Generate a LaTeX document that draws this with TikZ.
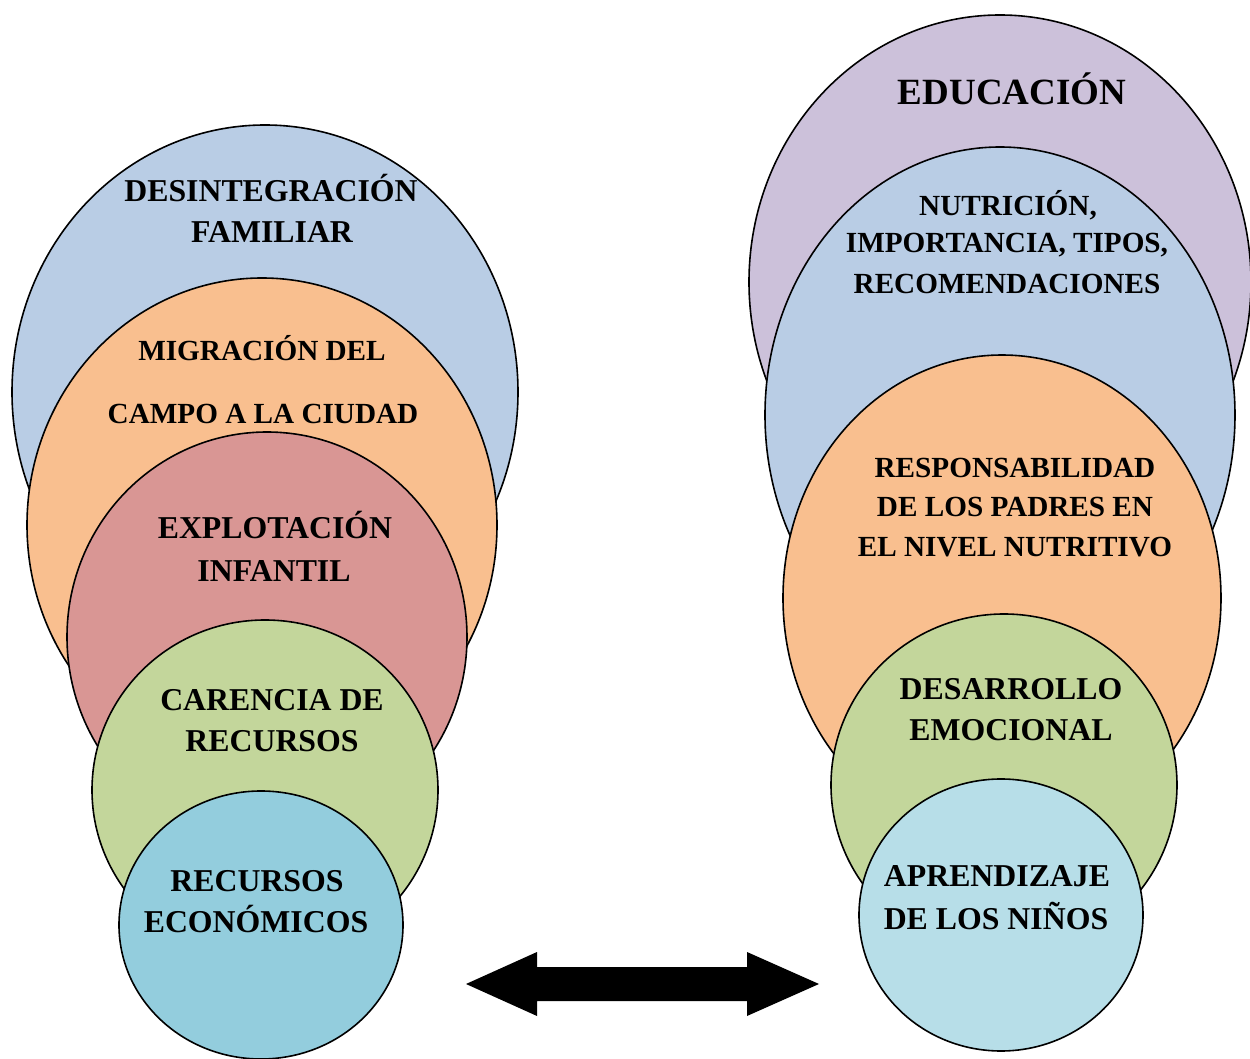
\documentclass[tikz,border=0pt]{standalone}
\usepackage{fontspec}
\setmainfont{Liberation Serif}
\usetikzlibrary{shapes.geometric}
\definecolor{cblue}{HTML}{B9CDE5}
\definecolor{corange}{HTML}{F9BF8F}
\definecolor{cred}{HTML}{D99694}
\definecolor{cgreen}{HTML}{C3D69B}
\definecolor{cteal}{HTML}{93CDDD}
\definecolor{cpurple}{HTML}{CCC1DA}
\definecolor{clight}{HTML}{B7DEE8}
\tikzset{
  bubble/.style={ellipse, draw=black, line width=0.8pt, inner sep=0pt},
  lbl/.style={font=\bfseries\fontsize{15.9}{20.5}\selectfont, align=center, text=black, inner sep=0pt},
  lblsm/.style={font=\bfseries\fontsize{14.6}{19.8}\selectfont, align=center, text=black, inner sep=0pt},
  lblbig/.style={font=\bfseries\fontsize{18.5}{22}\selectfont, align=center, text=black, inner sep=0pt},
}
\begin{document}
\begin{tikzpicture}[x=0.5pt,y=-0.5pt]
\useasboundingbox (0,0) rectangle (1250,1059);
% left column
\node[bubble, fill=cblue, minimum width=253pt, minimum height=267pt] (l1) at (265,392) {};
\node[bubble, fill=corange, minimum width=235pt, minimum height=247pt] (l2) at (262,525) {};
\node[bubble, fill=cred, minimum width=200pt, minimum height=205pt] (l3) at (267,637) {};
\node[bubble, fill=cgreen, minimum width=173pt, minimum height=170pt] (l4) at (265,790) {};
\node[bubble, fill=cteal, minimum width=142pt, minimum height=134pt] (l5) at (261,925) {};
% right column
\node[bubble, fill=cpurple, minimum width=251pt, minimum height=267pt] (r1) at (1000,282) {};
\node[bubble, fill=cblue, minimum width=235pt, minimum height=268pt] (r2) at (1000,415) {};
\node[bubble, fill=corange, minimum width=219pt, minimum height=243pt] (r3) at (1002,598) {};
\node[bubble, fill=cgreen, minimum width=173pt, minimum height=171pt] (r4) at (1004,785) {};
\node[bubble, fill=clight, minimum width=142pt, minimum height=136pt] (r5) at (1001,915) {};
% labels left
\node[lbl] (t1a) at (271,188) {DESINTEGRACIÓN};
\node[lbl] (t1b) at (272,232) {FAMILIAR};
\node[lblsm] (t2a) at (262,348) {MIGRACIÓN DEL};
\node[lblsm] (t2b) at (263,414) {CAMPO A LA CIUDAD};
\node[lbl] (t3a) at (275,525) {EXPLOTACIÓN};
\node[lbl] (t3b) at (274,571) {INFANTIL};
\node[lbl] (t4a) at (272,700) {CARENCIA DE};
\node[lbl] (t4b) at (272,741) {RECURSOS};
\node[lbl] (t5a) at (257,881) {RECURSOS};
\node[lbl] (t5b) at (256,919) {ECONÓMICOS};
% labels right
\node[lblbig] (u1) at (1012,89) {EDUCACIÓN};
\node[lblsm] (u2a) at (1008,205) {NUTRICIÓN,};
\node[lblsm] (u2b) at (1007,245) {IMPORTANCIA, TIPOS,};
\node[lblsm] (u2c) at (1007,284) {RECOMENDACIONES};
\node[lblsm] (u3a) at (1015,468) {RESPONSABILIDAD};
\node[lblsm] (u3b) at (1015,507) {DE LOS PADRES EN};
\node[lblsm] (u3c) at (1015,547) {EL NIVEL NUTRITIVO};
\node[lbl] (u4a) at (1011,689) {DESARROLLO};
\node[lbl] (u4b) at (1011,730) {EMOCIONAL};
\node[lbl] (u5a) at (997,876) {APRENDIZAJE};
\node[lbl] (u5b) at (996,916) {DE LOS NIÑOS};
% double arrow
\fill[black] (466,984) -- (537,952) -- (537,967) -- (747,967) -- (747,952) -- (819,984)
  -- (747,1016) -- (747,1001) -- (537,1001) -- (537,1016) -- cycle;
\end{tikzpicture}
\end{document}
